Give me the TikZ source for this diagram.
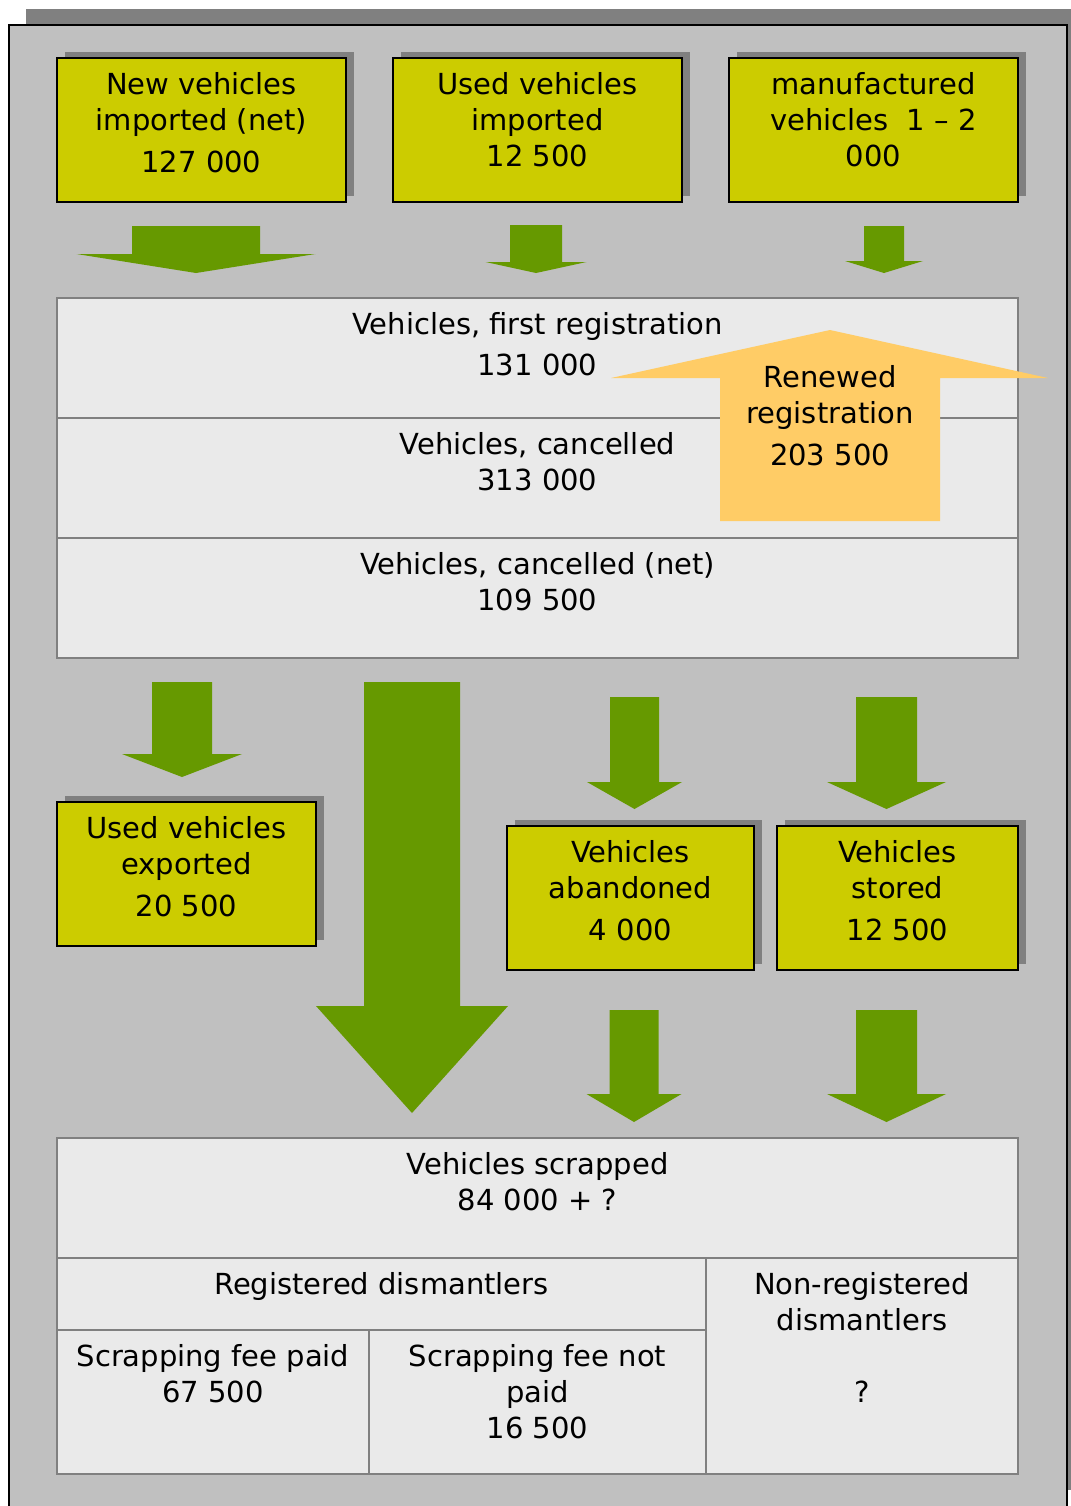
\documentclass[tikz,border=0pt]{standalone}
\usepackage{fontspec}
\setmainfont{DejaVu Sans}
\usetikzlibrary{positioning, shadows}
\definecolor{framegray}{HTML}{C0C0C0}
\definecolor{shadowgray}{HTML}{808080}
\definecolor{boxyellow}{HTML}{CCCC00}
\definecolor{flowgreen}{HTML}{669900}
\definecolor{cellfill}{HTML}{EAEAEA}
\definecolor{reneworange}{HTML}{FFCC66}

% block arrow: centre x, top y, shaft half width, head half width, head y, tip y
\newcommand{\flowarrow}[6]{%
  \fill[flowgreen] (#1-#3,#2) -- (#1+#3,#2) -- (#1+#3,#5) -- (#1+#4,#5)
    -- (#1,#6) -- (#1-#4,#5) -- (#1-#3,#5) -- cycle;}

\begin{document}
\begin{tikzpicture}[
    x=0.5pt, y=-0.5pt,
    font=\fontsize{14.5}{18}\selectfont,
    ybox/.style={draw=black, line width=0.9pt, fill=boxyellow,
        minimum height=72pt, inner sep=0pt, outer sep=0pt,
        general shadow={fill=shadowgray, shadow xshift=4pt, shadow yshift=3pt}},
    cell/.style={draw=shadowgray, line width=1pt, fill=cellfill,
        inner sep=0pt, outer sep=0pt},
    txt/.style={align=center, inner sep=0pt, text=black}
]
\useasboundingbox (0,0) rectangle (1071,1506);

% frame
\fill[shadowgray] (26,9) rectangle (1084,1490);
\draw[fill=framegray, line width=1pt] (9,25) rectangle (1067,1508);

% Sources
\node[ybox, minimum width=144.5pt] (newimp) at (201.5,130) {};
\node[txt, below=7pt of newimp.north] (newimp-t) {New vehicles\\imported (net)\\[3pt]127 000};
\node[ybox, minimum width=144.5pt] (usedimp) at (537.5,130) {};
\node[txt, below=7pt of usedimp.north] (usedimp-t) {Used vehicles\\imported\\12 500};
\node[ybox, minimum width=144.5pt] (manuf) at (873.5,130) {};
\node[txt, below=7pt of manuf.north] (manuf-t) {manufactured\\vehicles~ 1 – 2\\000};

\flowarrow{196}{226}{64}{119.5}{254}{273}
\flowarrow{536}{225}{26}{50.5}{262}{273}
\flowarrow{884}{226}{20}{39}{261}{273}

% Register
\node[cell, minimum width=480.5pt, minimum height=60pt] (firstreg) at (537.5,358) {};
\node[cell, minimum width=480.5pt, minimum height=60pt, below=0pt of firstreg] (cancel) {};
\node[cell, minimum width=480.5pt, minimum height=60pt, below=0pt of cancel] (cancelnet) {};
\node[txt, below=7pt of firstreg.north] (firstreg-t) {Vehicles, first registration\\[2.5pt]131 000};
\node[txt, below=7pt of cancel.north] (cancel-t) {Vehicles, cancelled\\313 000};
\node[txt, below=7pt of cancelnet.north] (cancelnet-t) {Vehicles, cancelled (net)\\109 500};

% Renewed registration
\fill[reneworange] (720,521) -- (720,378) -- (611,378) -- (830,330)
    -- (1048,378) -- (940,378) -- (940,521) -- cycle;
\node[txt, anchor=north] (renew) at (830,365) {Renewed\\registration\\[3pt]203 500};

\flowarrow{182}{682}{30}{60}{754}{777}
\flowarrow{412}{682}{48}{96}{1006}{1113}
\flowarrow{634.5}{697}{24.5}{47.5}{782}{809}
\flowarrow{886.5}{697}{30.5}{59.5}{782}{809}

% Outflows
\node[ybox, minimum width=129.5pt] (export) at (186.5,874) {};
\node[txt, below=7pt of export.north] (export-t) {Used vehicles\\exported\\[3pt]20 500};
\node[ybox, minimum width=123.5pt] (abandon) at (630.5,898) {};
\node[txt, below=7pt of abandon.north] (abandon-t) {Vehicles\\abandoned\\[3pt]4 000};
\node[ybox, minimum width=120.5pt] (store) at (897.5,898) {};
\node[txt, below=7pt of store.north] (store-t) {Vehicles\\stored\\[3pt]12 500};

\flowarrow{634}{1010}{24.5}{47.5}{1094}{1122}
\flowarrow{886.5}{1010}{30.5}{59.5}{1094}{1122}

% Scrapping
\node[cell, minimum width=480.5pt, minimum height=60pt] (scrap) at (537.5,1198) {};
\node[cell, minimum width=324.5pt, minimum height=36pt, anchor=north west] (regd) at (scrap.south west) {};
\node[cell, minimum width=156pt, minimum height=108pt, anchor=north east] (nonreg) at (scrap.south east) {};
\node[cell, minimum width=156pt, minimum height=72pt, anchor=north west] (paid) at (regd.south west) {};
\node[cell, minimum width=168.5pt, minimum height=72pt, anchor=north east] (notpaid) at (regd.south east) {};
\node[txt, below=7pt of scrap.north] (scrap-t) {Vehicles scrapped\\84 000 + ?};
\node[txt, below=7pt of regd.north] (regd-t) {Registered dismantlers};
\node[txt, below=7pt of nonreg.north] (nonreg-t) {Non-registered\\dismantlers\\[18pt]?};
\node[txt, below=7pt of paid.north] (paid-t) {Scrapping fee paid\\67 500};
\node[txt, below=7pt of notpaid.north] (notpaid-t) {Scrapping fee not\\paid\\16 500};

\end{tikzpicture}
\end{document}
